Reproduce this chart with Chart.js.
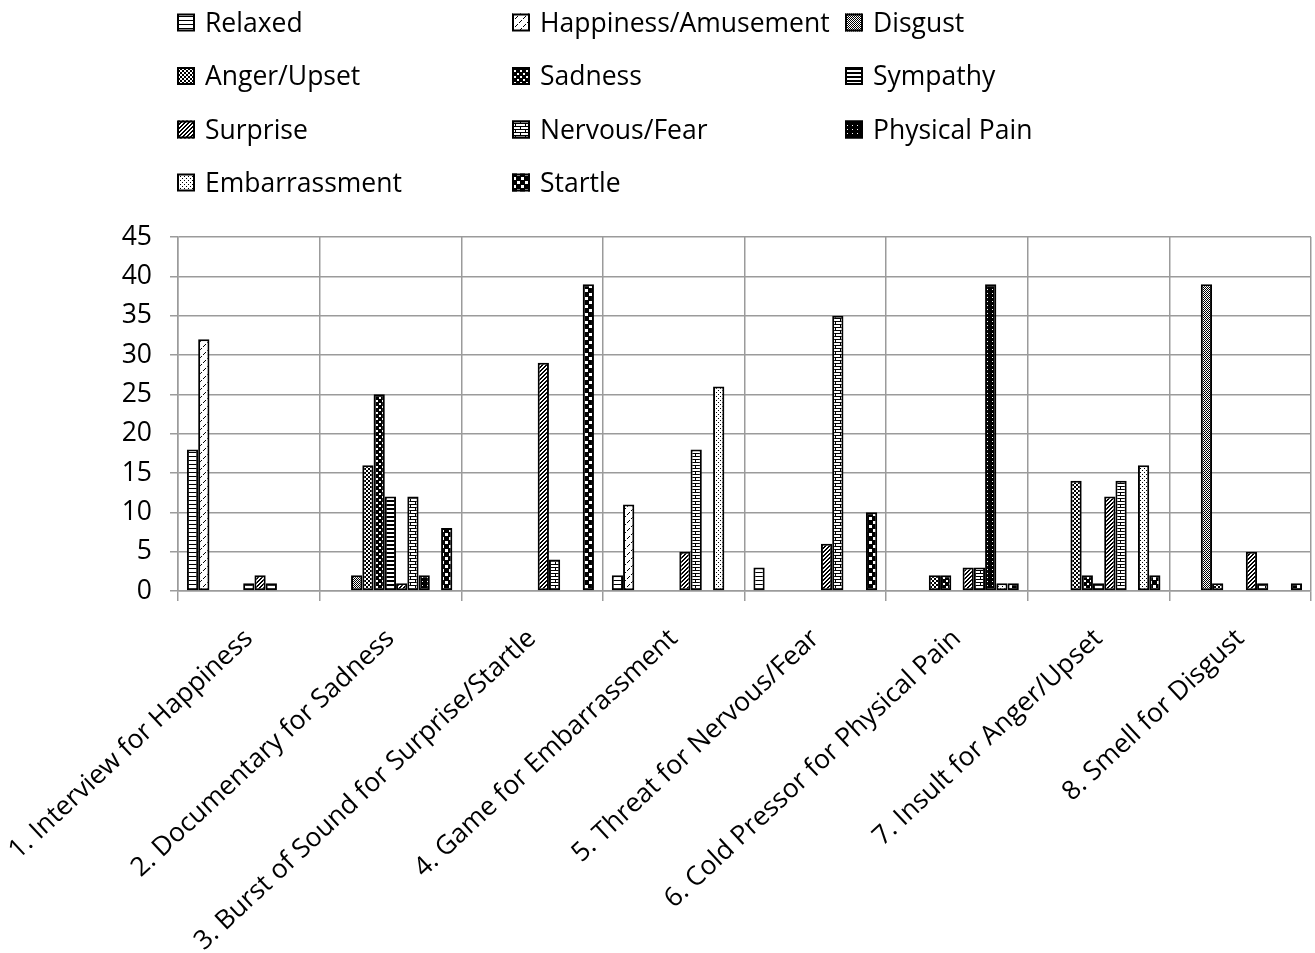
<!DOCTYPE html>
<html>
<head>
<meta charset="utf-8">
<script src="https://cdn.jsdelivr.net/npm/chart.js@4.4.1/dist/chart.umd.min.js"></script>
<style>
  html, body { margin: 0; padding: 0; background: #ffffff; }
  #wrap { width: 1315px; height: 953px; position: relative; }
</style>
</head>
<body>
<div id="wrap"><canvas id="chart" width="1315" height="953"></canvas></div>
<script>
// Tasks (categories on the x axis)
const categories = [
  "1. Interview for Happiness",
  "2. Documentary for Sadness",
  "3. Burst of Sound for Surprise/Startle",
  "4. Game for Embarrassment",
  "5. Threat for Nervous/Fear",
  "6. Cold Pressor for Physical Pain",
  "7. Insult for Anger/Upset",
  "8. Smell for Disgust"
];

// Emotion labels, in legend order
const seriesNames = [
  "Relaxed", "Happiness/Amusement", "Disgust",
  "Anger/Upset", "Sadness", "Sympathy",
  "Surprise", "Nervous/Fear", "Physical Pain",
  "Embarrassment", "Startle"
];

// Counts per task for each emotion
const relaxed       = [18,  0,  0,  2,  3,  0,  0,  0];
const happiness     = [32,  0,  0, 11,  0,  0,  0,  0];
const disgust       = [ 0,  2,  0,  0,  0,  0,  0, 39];
const anger         = [ 0, 16,  0,  0,  0,  2, 14,  1];
const sadness       = [ 0, 25,  0,  0,  0,  2,  2,  0];
const sympathy      = [ 1, 12,  0,  0,  0,  0,  1,  0];
const surprise      = [ 2,  1, 29,  5,  6,  3, 12,  5];
const nervous       = [ 1, 12,  4, 18, 35,  3, 14,  1];
const physicalPain  = [ 0,  2,  0,  0,  0, 39,  0,  0];
const embarrassment = [ 0,  0,  0, 26,  0,  1, 16,  0];
const startle       = [ 0,  8, 39,  0, 10,  1,  2,  1];

const seriesValues = [relaxed, happiness, disgust, anger, sadness, sympathy,
                      surprise, nervous, physicalPain, embarrassment, startle];

// Y axis range and step
const yMin = 0, yMax = 45, yStep = 5;

const FONT = "'Open Sans', Lato, 'DejaVu Sans', sans-serif";
const FONT_SIZE = 26.5;
const GRID = '#9b9b9b';

// ---- monochrome fill patterns -------------------------------------------
const mainCtx = document.getElementById('chart').getContext('2d');
function tile(w, h, bg, paint) {
  const c = document.createElement('canvas');
  c.width = w; c.height = h;
  const g = c.getContext('2d');
  g.fillStyle = bg; g.fillRect(0, 0, w, h);
  paint(g);
  return mainCtx.createPattern(c, 'repeat');
}
function dot(g, x, y, w = 1, h = 1, col = '#000') { g.fillStyle = col; g.fillRect(x, y, w, h); }

const patterns = [
  // Relaxed: thin horizontal lines
  tile(4, 4, '#fff', g => dot(g, 0, 0, 4, 1)),
  // Happiness/Amusement: small diagonal dashes
  tile(8, 8, '#fff', g => {
    dot(g, 5, 0); dot(g, 4, 1); dot(g, 3, 2);
    dot(g, 1, 4); dot(g, 0, 5); dot(g, 7, 6);
  }),
  // Disgust: fine 50% checker
  tile(2, 2, '#fff', g => { dot(g, 0, 0); dot(g, 1, 1); }),
  // Anger/Upset: small checkerboard
  tile(4, 4, '#fff', g => { dot(g, 0, 0, 2, 2); dot(g, 2, 2, 2, 2); }),
  // Sadness: dark with white spheres
  tile(6, 6, '#000', g => { dot(g, 1, 1, 2, 2, '#fff'); dot(g, 4, 4, 2, 2, '#fff'); }),
  // Sympathy: dark horizontal bands
  tile(4, 4, '#fff', g => dot(g, 0, 0, 4, 2)),
  // Surprise: wide upward diagonal
  tile(4, 4, '#fff', g => {
    for (let x = 0; x < 4; x++) for (let y = 0; y < 4; y++)
      if ((x + y) % 4 >= 2) dot(g, x, y);
  }),
  // Nervous/Fear: horizontal brick
  tile(10, 6, '#fff', g => {
    dot(g, 0, 0, 10, 1); dot(g, 0, 3, 10, 1);
    dot(g, 0, 0, 1, 3); dot(g, 5, 3, 1, 3);
  }),
  // Physical Pain: black with sparse white dots
  tile(5, 4, '#000', g => dot(g, 2, 1, 1, 1, '#fff')),
  // Embarrassment: light dotted
  tile(4, 4, '#fff', g => { dot(g, 0, 0); dot(g, 2, 2); }),
  // Startle: large checkerboard
  tile(8, 8, '#000', g => { dot(g, 1, 1, 3, 3, '#fff'); dot(g, 5, 5, 3, 3, '#fff'); })
];

const datasets = seriesNames.map((name, i) => ({
  label: name,
  data: seriesValues[i],
  backgroundColor: patterns[i],
  borderColor: '#000',
  borderWidth: 2,
  borderSkipped: false,
  categoryPercentage: 0.874,
  barPercentage: 1.0
}));

// ---- legend laid out as a three-column grid above the plot ---------------
const legendGrid = {
  columns: [177, 512, 845],
  baselines: [31.5, 85, 138.5, 191.5],
  box: 18,
  textOffset: 28
};
const gridLegend = {
  id: 'gridLegend',
  afterDraw(chart) {
    const ctx = chart.ctx;
    ctx.save();
    chart.data.datasets.forEach((ds, i) => {
      const x = legendGrid.columns[i % 3];
      const base = legendGrid.baselines[Math.floor(i / 3)];
      const top = base - legendGrid.box;
      ctx.fillStyle = ds.backgroundColor;
      ctx.fillRect(x, top, legendGrid.box, legendGrid.box);
      ctx.lineWidth = 2;
      ctx.strokeStyle = '#000';
      ctx.strokeRect(x + 1, top + 1, legendGrid.box - 2, legendGrid.box - 2);
      ctx.fillStyle = '#000';
      ctx.font = `${FONT_SIZE}px ${FONT}`;
      ctx.textBaseline = 'alphabetic';
      ctx.textAlign = 'left';
      ctx.fillText(ds.label, x + legendGrid.textOffset, base);
    });
    ctx.restore();
  }
};

new Chart(mainCtx, {
  type: 'bar',
  data: { labels: categories, datasets },
  plugins: [gridLegend],
  options: {
    responsive: false,
    animation: false,
    layout: { padding: { top: 237, right: 4, left: 0, bottom: 0 } },
    plugins: {
      legend: { display: false },
      tooltip: { enabled: false }
    },
    scales: {
      x: {
        grid: { offset: true, color: GRID, lineWidth: 1.5, tickLength: 10, drawTicks: true },
        border: { color: GRID, width: 1.5 },
        ticks: {
          autoSkip: false,
          minRotation: 43,
          maxRotation: 43,
          color: '#000',
          padding: 22,
          font: { family: FONT, size: FONT_SIZE }
        },
        // fixed axis band; rotated labels may run off the left edge
        afterFit: s => { s.height = 362; s.paddingLeft = 0; s.paddingRight = 0; }
      },
      y: {
        min: yMin,
        max: yMax,
        grid: { color: GRID, lineWidth: 1.5, tickLength: 8 },
        border: { color: GRID, width: 1.5 },
        ticks: {
          stepSize: yStep,
          color: '#000',
          padding: 18,
          font: { family: FONT, size: FONT_SIZE }
        },
        afterFit: s => { s.width = 178; }
      }
    }
  }
});
</script>
</body>
</html>
